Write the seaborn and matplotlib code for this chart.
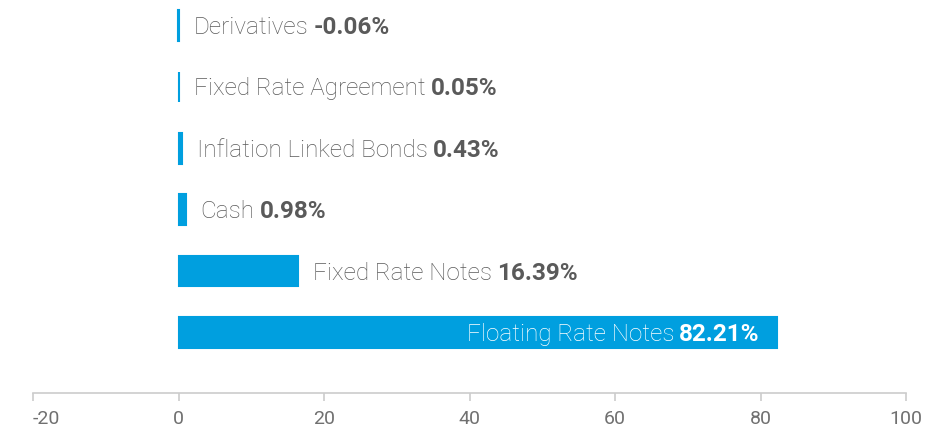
import matplotlib
matplotlib.use("Agg")
import matplotlib.pyplot as plt
import seaborn as sns
import pandas as pd

categories = ["Derivatives", "Fixed Rate Agreement", "Inflation Linked Bonds",
              "Cash", "Fixed Rate Notes", "Floating Rate Notes"]
values = [-0.06, 0.05, 0.43, 0.98, 16.39, 82.21]
value_labels = ["-0.06%", "0.05%", "0.43%", "0.98%", "16.39%", "82.21%"]
xticks = [-20, 0, 20, 40, 60, 80, 100]

BLUE = "#009fdf"
TEXT = "#5a5a5a"
AXIS = "#cccccc"

sns.set_theme(style="white")
plt.rcParams['font.family'] = ['Roboto', 'DejaVu Sans']

df = pd.DataFrame({"category": categories, "value": values})

fig = plt.figure(figsize=(9.36, 4.28), dpi=100)
ax = fig.add_axes([33/936, 35/428, (906-33)/936, 393/428])

sns.barplot(data=df, x="value", y="category", orient="h", color=BLUE,
            width=0.5, linewidth=1.5, edgecolor=BLUE, saturation=1, ax=ax)

ax.set_xlim(-20, 100)
ax.set_ylim(5.985, -0.415)
ax.set_xticks(xticks)
ax.set_xticklabels([str(t) for t in xticks])
ax.get_xticklabels()[0].set_ha("left")
ax.set_yticks([])
ax.set_xlabel("")
ax.set_ylabel("")
for s in ["left", "top", "right"]:
    ax.spines[s].set_visible(False)
ax.spines["bottom"].set_color(AXIS)
ax.spines["bottom"].set_linewidth(1.2)
ax.tick_params(axis="x", bottom=True, colors=AXIS, length=6, width=1.2,
               direction="out", pad=6, labelsize=14, labelcolor="#707070")

FS = 17.5
for i, (name, v, lab) in enumerate(zip(categories, values, value_labels)):
    if i == len(categories) - 1:
        t2 = ax.annotate(lab, xy=(v, i), xytext=(-17, -2), textcoords="offset pixels",
                         ha="right", va="center", fontsize=FS, fontweight="bold",
                         color="white")
        ax.annotate(name, xy=(0, 0), xycoords=t2, xytext=(-5, 0),
                    textcoords="offset pixels", ha="right", va="bottom",
                    fontsize=FS, fontweight="light", color="white")
    else:
        t1 = ax.annotate(name, xy=(max(v, 0), i), xytext=(15, -2),
                         textcoords="offset pixels", ha="left", va="center",
                         fontsize=FS, fontweight="light", color=TEXT)
        ax.annotate(lab, xy=(1, 0), xycoords=t1, xytext=(5, 0),
                    textcoords="offset pixels", ha="left", va="bottom",
                    fontsize=FS, fontweight="bold", color=TEXT)

fig.savefig("out.png", dpi=100)
